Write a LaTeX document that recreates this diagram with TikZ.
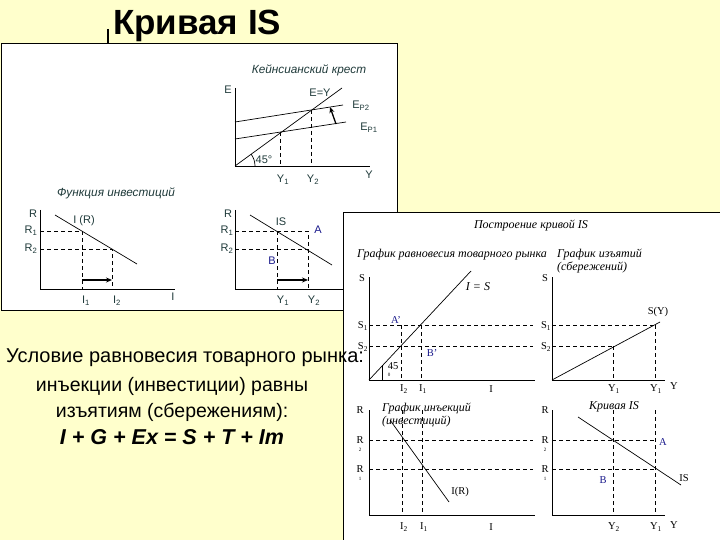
\documentclass[tikz,border=0pt]{standalone}
\usepackage{fontspec}
\setmainfont{Liberation Serif}
\setsansfont{Liberation Sans}
\usetikzlibrary{arrows.meta}
\definecolor{bg}{HTML}{FFFFCC}
\definecolor{lbl}{HTML}{1F3A3A}
\definecolor{bl}{HTML}{1A1A8C}
\begin{document}
\begin{tikzpicture}[x=1pt,y=-1pt,
  ax/.style={line width=0.9pt},
  cv/.style={line width=0.7pt},
  dsh/.style={dashed,line width=0.7pt,dash pattern=on 4pt off 3pt},
  sl/.style={font=\sffamily\fontsize{11}{12}\selectfont,text=lbl,inner sep=1pt},
  it/.style={font=\sffamily\itshape\fontsize{11.8}{12}\selectfont,text=lbl,inner sep=1pt},
  rl/.style={font=\itshape\fontsize{12}{12.5}\selectfont,inner sep=1pt},
  rn/.style={font=\fontsize{10.5}{11}\selectfont,inner sep=1pt},
  big/.style={font=\sffamily\fontsize{19.5}{21}\selectfont,inner sep=0pt},
  harr/.style={-{Stealth[length=6pt,width=5pt]},line width=1.8pt}]
\fill[bg] (0,0) rectangle (720,540);
\useasboundingbox (0,0) rectangle (720,540);
% title
\node[font=\sffamily\bfseries\fontsize{35}{38}\selectfont,anchor=west,inner sep=0pt] (title) at (113,26) {Кривая IS};
\draw[line width=1.3pt] (108,29) -- (108,43);
% panel 1
\fill[white,draw=black,line width=0.8pt] (1,43) rectangle (397,310);
\node[it] (kc) at (309,70) {Кейнсианский крест};
\draw[ax] (235,88) -- (235,166) -- (370,166);
\node[sl] (E) at (228,90) {E};
\draw[cv] (235,166) -- (342,88);
\node[sl] (EY) at (320,93) {E=Y};
\draw[cv] (235,122) -- (343,105);
\draw[cv] (235,139) -- (346,122);
\node[sl] (ep2) at (361,106) {E\textsubscript{P2}};
\node[sl] (ep1) at (369,128) {E\textsubscript{P1}};
\draw[-{Stealth[length=6pt,width=5pt]},line width=1.3pt] (336,124) -- (330,107);
\draw[dsh] (280,132) -- (280,166);
\draw[dsh] (311,110) -- (311,166);
\draw[cv] (255,166) arc[start angle=0,end angle=-36,radius=20];
\node[sl] (d45) at (264,160) {45°};
\node[sl] (ky1) at (283,180) {Y\textsubscript{1}};
\node[sl] (ky2) at (313,180) {Y\textsubscript{2}};
\node[sl] (ky) at (369,175) {Y};
% investment
\node[it] (fi) at (116,193) {Функция инвестиций};
\draw[ax] (40,210) -- (40,289) -- (175,289);
\draw[cv] (55,215) -- (137,264);
\node[sl] (ir) at (84,221) {I (R)};
\node[sl] (ir0) at (33,214) {R};
\node[sl] (ir1) at (31,231) {R\textsubscript{1}};
\node[sl] (ir2) at (31,249) {R\textsubscript{2}};
\draw[dsh] (40,231) -- (82,231) -- (82,289);
\draw[dsh] (40,249) -- (112,249) -- (112,289);
\draw[harr] (82,280) -- (112,280);
\node[sl] (i1) at (86,301) {I\textsubscript{1}};
\node[sl] (i2) at (117,301) {I\textsubscript{2}};
\node[sl] (ii) at (173,297) {I};
% IS small
\draw[ax] (235,210) -- (235,289) -- (343,289);
\draw[cv] (250,215) -- (332,265);
\node[sl] (isl) at (281,222) {IS};
\node[sl] (sr0) at (228,214) {R};
\node[sl] (sr1) at (227,231) {R\textsubscript{1}};
\node[sl] (sr2) at (227,249) {R\textsubscript{2}};
\draw[dsh] (235,231) -- (308,231) -- (308,289);
\draw[dsh] (235,249) -- (308,249);
\draw[dsh] (277,231) -- (277,289);
\node[sl,text=bl] (sA) at (318,230) {A};
\node[sl,text=bl] (sB) at (272,261) {B};
\draw[harr] (277,280) -- (308,280);
\node[sl] (sy1) at (283,301) {Y\textsubscript{1}};
\node[sl] (sy2) at (314,301) {Y\textsubscript{2}};
% panel 2
\fill[white,draw=black,line width=0.8pt] (343,212) rectangle (722,542);
\node[rl] (pt) at (531,226) {Построение кривой IS};
\node[rl] (g1) at (452,255) {График равновесия товарного рынка};
\node[rl,align=left,anchor=north west] (g2) at (556,248) {График изъятий\\(сбережений)};
% top-left
\draw[ax] (369,277) -- (369,380) -- (535,380);
\draw[cv] (369,380) -- (471,271);
\node[rl] (ies) at (478,287) {I = S};
\node[rn] (tS) at (362,278) {S};
\node[rn] (tS1) at (363,326) {S\textsubscript{1}};
\node[rn] (tS2) at (363,347) {S\textsubscript{2}};
\draw[dsh] (369,325) -- (533,325);
\draw[dsh] (369,346) -- (533,346);
\draw[dsh] (401,325) -- (401,380);
\draw[dsh] (421,325) -- (421,380);
\node[rn,text=bl] (Ap) at (396,320) {A'};
\node[rn,text=bl] (Bp) at (432,353) {B'};
\draw[cv] (382,365) -- (382,380);
\node[rn,align=left] (t45) at (393,370) {45\\[-4pt]{\tiny 0}};
\node[rn] (tI2) at (404,389) {I\textsubscript{2}};
\node[rn] (tI1) at (423,389) {I\textsubscript{1}};
\node[rn] (tI) at (491,389) {I};
% top-right
\draw[ax] (552,277) -- (552,380) -- (665,380);
\draw[cv] (552,380) -- (660,322);
\node[rn] (sy) at (658,312) {S(Y)};
\node[rn] (rS) at (545,278) {S};
\node[rn] (rS1) at (546,326) {S\textsubscript{1}};
\node[rn] (rS2) at (546,347) {S\textsubscript{2}};
\draw[dsh] (552,325) -- (655,325);
\draw[dsh] (552,346) -- (613,346);
\draw[dsh] (613,346) -- (613,380);
\draw[dsh] (655,325) -- (655,380);
\node[rn] (rY1a) at (614,389) {Y\textsubscript{1}};
\node[rn] (rY1b) at (656,389) {Y\textsubscript{1}};
\node[rn] (rY) at (674,386) {Y};
% bottom-left
\draw[ax] (369,410) -- (369,515) -- (535,515);
\draw[cv] (390,420) -- (449,502);
\node[rn] (bir) at (460,492) {I(R)};
\node[rl,align=left,anchor=north west] (gi) at (381,402) {График инъекций\\(инвестиций)};
\node[rn] (bR) at (360,410) {R};
\node[rn,align=center] (bR2) at (360,444) {R\\[-3pt]{\tiny 2}};
\node[rn,align=center] (bR1) at (360,473) {R\\[-3pt]{\tiny 1}};
\draw[dsh] (369,440) -- (533,440);
\draw[dsh] (369,469) -- (533,469);
\draw[dsh] (402,410) -- (402,515);
\draw[dsh] (422,410) -- (422,515);
\node[rn] (bI2) at (404,527) {I\textsubscript{2}};
\node[rn] (bI1) at (424,527) {I\textsubscript{1}};
\node[rn] (bI) at (491,527) {I};
% bottom-right
\draw[ax] (552,410) -- (552,515) -- (665,515);
\draw[cv] (578,417) -- (681,485);
\node[rn] (ris) at (684,478) {IS};
\node[rl] (kis) at (614,407) {Кривая IS};
\node[rn] (rR) at (545,410) {R};
\node[rn,align=center] (rR2) at (545,444) {R\\[-3pt]{\tiny 2}};
\node[rn,align=center] (rR1) at (545,473) {R\\[-3pt]{\tiny 1}};
\draw[dsh] (552,440) -- (655,440);
\draw[dsh] (552,469) -- (655,469);
\draw[dsh] (613,410) -- (613,515);
\draw[dsh] (655,410) -- (655,515);
\node[rn,text=bl] (rA) at (663,442) {A};
\node[rn,text=bl] (rB) at (603,480) {B};
\node[rn] (rY2) at (614,527) {Y\textsubscript{2}};
\node[rn] (rY1) at (656,527) {Y\textsubscript{1}};
\node[rn] (rYY) at (674,525) {Y};
% left text
\node[big,font=\sffamily\fontsize{20}{21}\selectfont,anchor=west] (c1) at (6,358) {Условие равновесия товарного рынка:};
\node[big] (c2) at (172,386) {инъекции (инвестиции) равны};
\node[big] (c3) at (172,412) {изъятиям (сбережениям):};
\node[big,font=\sffamily\bfseries\itshape\fontsize{21.5}{23}\selectfont] (c4) at (172,437) {I + G + Ex = S + T + Im};
\end{tikzpicture}
\end{document}
